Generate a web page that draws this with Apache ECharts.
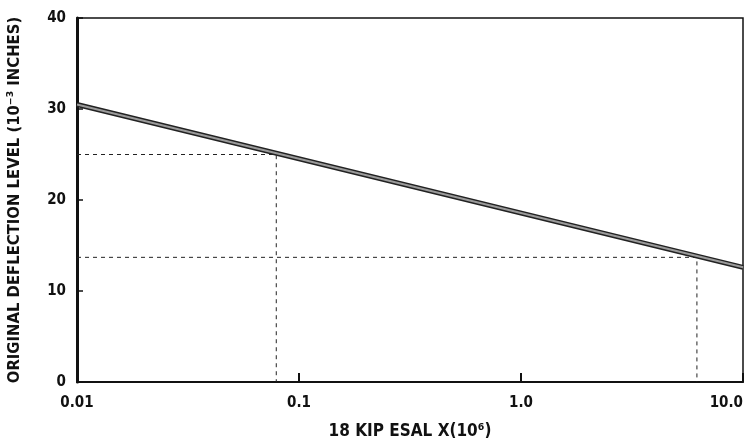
<!DOCTYPE html>
<html>
<head>
<meta charset="utf-8">
<script src="https://cdn.jsdelivr.net/npm/echarts@6/dist/echarts.min.js"></script>
<style>
html, body { margin: 0; padding: 0; background: #fff; }
#main { width: 750px; height: 444px; }
</style>
</head>
<body>
<div id="main"></div>
<script>
// data
var xTicks = [0.01, 0.1, 1, 10];
var xTickLabels = ['0.01', '0.1', '1.0', '10.0'];
var yTicks = [0, 10, 20, 30, 40];
var deflectionLine = [[0.01, 30.5], [10, 12.6]];
var guideA = [[0.01, 25], [0.079, 25], [0.079, 0]];
var guideB = [[0.01, 13.7], [6.2, 13.7], [6.2, 0]];

var font = 'DejaVu Sans Condensed';

var myChart = echarts.init(document.getElementById('main'), null, { renderer: 'canvas' });
var option = {
	backgroundColor: '#fff',
	animation: false,
	grid: {
		left: 77,
		right: 7,
		top: 18,
		bottom: 62,
		outerBoundsMode: 'none',
		containLabel: false,
		show: true,
		borderColor: '#111',
		borderWidth: 1.5
	},
	xAxis: {
		type: 'log',
		logBase: 10,
		min: 0.01,
		max: 10,
		name: '18 KIP ESAL X(10\u2076)',
		nameLocation: 'middle',
		nameGap: 41,
		nameTextStyle: {
			color: '#111',
			fontFamily: font,
			fontWeight: 'bold',
			fontSize: 17
		},
		axisLine: {
			lineStyle: { color: '#111', width: 2 }
		},
		axisTick: {
			inside: true,
			length: 9,
			lineStyle: { color: '#111', width: 2 }
		},
		axisLabel: {
			color: '#111',
			fontFamily: font,
			fontWeight: 'bold',
			fontSize: 15,
			margin: 14,
			alignMaxLabel: 'right',
			formatter: function (v) {
				for (var i = 0; i < xTicks.length; i++) {
					if (Math.abs(Math.log10(v) - Math.log10(xTicks[i])) < 1e-6) return xTickLabels[i];
				}
				return '';
			}
		},
		minorTick: { show: false },
		splitLine: { show: false }
	},
	yAxis: {
		type: 'value',
		min: yTicks[0],
		max: yTicks[yTicks.length - 1],
		interval: 10,
		name: 'ORIGINAL DEFLECTION LEVEL (10\u207B\u00B3 INCHES)',
		nameLocation: 'middle',
		nameGap: 54,
		nameTextStyle: {
			color: '#111',
			fontFamily: font,
			fontWeight: 'bold',
			fontSize: 16.5
		},
		axisLine: {
			show: true,
			lineStyle: { color: '#111', width: 3 }
		},
		axisTick: {
			show: true,
			inside: true,
			length: 6,
			lineStyle: { color: '#111', width: 1.5 }
		},
		axisLabel: {
			color: '#111',
			fontFamily: font,
			fontWeight: 'bold',
			fontSize: 15,
			margin: 11
		},
		splitLine: { show: false }
	},
	series: [{
			name: 'guideA',
			type: 'line',
			data: guideA,
			symbol: 'none',
			lineStyle: { color: '#222', width: 1, type: [4, 4] },
			z: 2
		},
		{
			name: 'guideB',
			type: 'line',
			data: guideB,
			symbol: 'none',
			lineStyle: { color: '#222', width: 1, type: [4, 4] },
			z: 2
		},
		{
			name: 'outline',
			type: 'line',
			data: deflectionLine,
			symbol: 'none',
			lineStyle: { color: '#222', width: 5 },
			z: 3
		},
		{
			name: 'fill',
			type: 'line',
			data: deflectionLine,
			symbol: 'none',
			lineStyle: { color: '#9a9a9a', width: 2 },
			z: 4
		}
	]
};
myChart.setOption(option);
</script>
</body>
</html>
